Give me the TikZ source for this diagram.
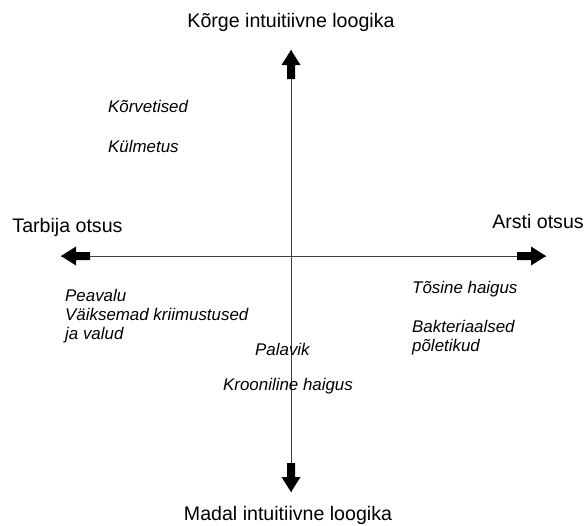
\documentclass[tikz,border=0pt]{standalone}
\usepackage{fontspec}
\setmainfont{Liberation Sans}
\tikzset{
  axisline/.style={draw=black!75, line width=0.9pt},
  lbl/.style={font=\fontsize{19.6}{22}\selectfont, inner sep=0pt},
  itm/.style={font=\fontsize{16.9}{19}\selectfont\itshape, inner sep=0pt, anchor=west, align=left},
  pics/blockhead/.style={code={
    \fill[black] (0,0) -- (-15,9.5) -- (-15,4) -- (-29,4) -- (-29,-4) -- (-15,-4) -- (-15,-9.5) -- cycle;}}
}
\begin{document}
\begin{tikzpicture}[x=1pt,y=-1pt]
\useasboundingbox (0,0) rectangle (586,525);
% axis ends
\coordinate (top) at (291,50);
\coordinate (bot) at (291,492);
\coordinate (lft) at (61,256);
\coordinate (rgt) at (546,256);
\draw[axisline] (top) -- (bot);
\draw[axisline] (lft) -- (rgt);
\pic[rotate=90] at (top) {blockhead};
\pic[rotate=-90] at (bot) {blockhead};
\pic[rotate=180] at (lft) {blockhead};
\pic at (rgt) {blockhead};
% axis labels
\node[lbl] (ktop) at (291,22) {Kõrge intuitiivne loogika};
\node[lbl] (kbot) at (288,515) {Madal intuitiivne loogika};
\node[lbl] (tarb) at (67.5,227) {Tarbija otsus};
\node[lbl] (arst) at (538,221) {Arsti otsus};
% items
\node[itm] (korv) at (108,106) {Kõrvetised};
\node[itm] (kulm) at (108,146) {Külmetus};
\node[itm] (peav) at (65,316) {Peavalu\\Väiksemad kriimustused\\ja valud};
\node[itm] (pala) at (255,349) {Palavik};
\node[itm] (kroo) at (223,386) {Krooniline haigus};
\node[itm] (tosi) at (412,289) {Tõsine haigus};
\node[itm] (bakt) at (412,337.5) {Bakteriaalsed\\põletikud};
\end{tikzpicture}
\end{document}
